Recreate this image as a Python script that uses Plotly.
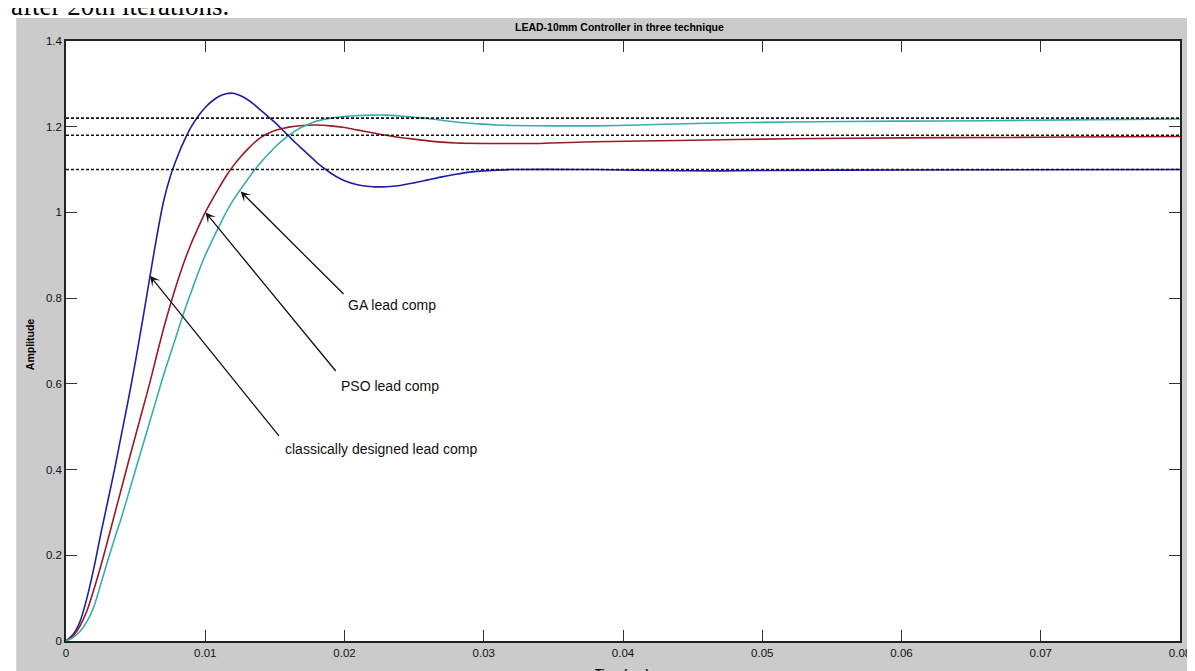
import plotly.graph_objects as go

# ---- data ----
t_classical = [0, 0.0005, 0.001, 0.0015, 0.002, 0.0025, 0.003, 0.0035, 0.004, 0.0045,
               0.005, 0.0055, 0.006, 0.0065, 0.007, 0.0075, 0.008, 0.0085, 0.009, 0.0095,
               0.010, 0.0105, 0.011, 0.0115, 0.012, 0.0125, 0.013, 0.0135, 0.014, 0.0145,
               0.015, 0.0155, 0.016, 0.0165, 0.017, 0.0175, 0.018, 0.0185, 0.019, 0.0195,
               0.020, 0.021, 0.022, 0.023, 0.024, 0.025, 0.026, 0.027, 0.028, 0.029,
               0.030, 0.032, 0.038, 0.042, 0.047, 0.050, 0.060, 0.08]
v_classical = [0, 0.015, 0.045, 0.10, 0.17, 0.25, 0.326, 0.403, 0.485, 0.567,
               0.655, 0.748, 0.845, 0.94, 1.025, 1.085, 1.13, 1.168, 1.20, 1.225,
               1.245, 1.26, 1.271, 1.277, 1.278, 1.273, 1.264, 1.252, 1.238, 1.224,
               1.21, 1.194, 1.178, 1.162, 1.147, 1.132, 1.117, 1.104, 1.092, 1.082,
               1.074, 1.064, 1.06, 1.06, 1.063, 1.069, 1.076, 1.083, 1.089, 1.094,
               1.097, 1.10, 1.10, 1.098, 1.097, 1.098, 1.099, 1.10]

t_pso = [0, 0.0005, 0.001, 0.0015, 0.002, 0.0025, 0.003, 0.0035, 0.004, 0.0045,
         0.005, 0.0055, 0.006, 0.0065, 0.007, 0.0075, 0.008, 0.0085, 0.009, 0.0095,
         0.010, 0.0105, 0.011, 0.0115, 0.012, 0.0125, 0.013, 0.0135, 0.014, 0.0145,
         0.015, 0.016, 0.017, 0.018, 0.019, 0.020, 0.021, 0.022, 0.023, 0.024,
         0.025, 0.026, 0.027, 0.028, 0.030, 0.034, 0.038, 0.044, 0.052, 0.060,
         0.068, 0.072, 0.08]
v_pso = [0, 0.012, 0.035, 0.07, 0.12, 0.175, 0.235, 0.297, 0.358, 0.42,
         0.48, 0.54, 0.60, 0.665, 0.728, 0.785, 0.838, 0.886, 0.928, 0.965,
         1.0, 1.03, 1.058, 1.085, 1.108, 1.128, 1.146, 1.162, 1.175, 1.184,
         1.191, 1.199, 1.203, 1.204, 1.202, 1.198, 1.192, 1.186, 1.18, 1.175,
         1.171, 1.167, 1.164, 1.162, 1.161, 1.161, 1.165, 1.168, 1.172, 1.174,
         1.175, 1.176, 1.177]

t_ga = [0, 0.0005, 0.001, 0.0015, 0.002, 0.0025, 0.003, 0.0035, 0.004, 0.0045,
        0.005, 0.0055, 0.006, 0.0065, 0.007, 0.0075, 0.008, 0.0085, 0.009, 0.0095,
        0.010, 0.0105, 0.011, 0.0115, 0.012, 0.0125, 0.013, 0.0135, 0.014, 0.0145,
        0.015, 0.0155, 0.016, 0.0165, 0.017, 0.0175, 0.018, 0.019, 0.020, 0.021,
        0.022, 0.023, 0.024, 0.025, 0.026, 0.027, 0.028, 0.029, 0.030, 0.031,
        0.032, 0.035, 0.038, 0.041, 0.046, 0.052, 0.060, 0.066, 0.072, 0.08]
v_ga = [0, 0.008, 0.022, 0.045, 0.08, 0.133, 0.188, 0.24, 0.29, 0.345,
        0.40, 0.455, 0.51, 0.565, 0.62, 0.67, 0.72, 0.77, 0.815, 0.86,
        0.90, 0.935, 0.968, 1.0, 1.028, 1.052, 1.075, 1.097, 1.117, 1.135,
        1.152, 1.167, 1.18, 1.191, 1.20, 1.207, 1.213, 1.22, 1.224, 1.226,
        1.227, 1.227, 1.225, 1.222, 1.219, 1.215, 1.211, 1.208, 1.206, 1.204,
        1.203, 1.202, 1.202, 1.204, 1.208, 1.211, 1.213, 1.214, 1.216, 1.218]

ref_levels = [1.22, 1.18, 1.10]

x_ticks = [0, 0.01, 0.02, 0.03, 0.04, 0.05, 0.06, 0.07, 0.08]
y_ticks = [0, 0.2, 0.4, 0.6, 0.8, 1.0, 1.2, 1.4]

title_text = "LEAD-10mm Controller in three technique"
x_label = "Time (sec)"
y_label = "Amplitude"
caption_text = "after 20th iterations."

# annotations: (label, head_t, head_v, tail_t, tail_v, text_t, text_v)
labels = [
    ("GA lead comp", 0.01254, 1.049, 0.02004, 0.806, 0.02011, 0.783),
    ("PSO lead comp", 0.01002, 1.000, 0.01946, 0.6265, 0.01961, 0.596),
    ("classically designed lead comp", 0.00603, 0.852, 0.01538, 0.475, 0.0156, 0.447),
]

# ---- figure ----
W, H = 1195, 671
L, R, T, B = 58, 19, 33, 38
pw, ph = W - L - R, H - T - B

def px2paper_x(px):
    return (px - L) / pw

def py2paper_y(py):
    return (H - B - py) / ph

fig = go.Figure()

line_w = 1.6
series = [
    (t_classical, v_classical, "#1f1fa3"),
    (t_pso, v_pso, "#9a1b25"),
    (t_ga, v_ga, "#38adae"),
]
for xs, ys, col in series:
    fig.add_trace(go.Scatter(x=xs, y=ys, mode="lines",
                             line=dict(color=col, width=line_w, shape="spline", smoothing=0.8),
                             hoverinfo="skip"))

for lv in ref_levels:
    fig.add_trace(go.Scatter(x=[x_ticks[0], x_ticks[-1]], y=[lv, lv], mode="lines",
                             line=dict(color="#111111", width=1.6, dash="3px,2px"),
                             hoverinfo="skip"))

font_main = "Liberation Sans, Arial, sans-serif"

annotations = []
for (txt, hx, hy, tx, ty, lx, ly) in labels:
    annotations.append(dict(x=hx, y=hy, xref="x", yref="y", ax=tx, ay=ty,
                            axref="x", ayref="y", text="", showarrow=True,
                            arrowhead=3, arrowsize=1.3, arrowwidth=1.3, arrowcolor="#111111"))
    annotations.append(dict(x=lx, y=ly, xref="x", yref="y", text=txt, showarrow=False,
                            xanchor="left", yanchor="middle",
                            font=dict(family=font_main, size=14, color="#111111")))

annotations.append(dict(x=px2paper_x(613), y=py2paper_y(19), xref="paper", yref="paper",
                        text=title_text, showarrow=False, xanchor="center", yanchor="middle",
                        font=dict(family=font_main, size=10.5, color="#000000", weight="bold")))
annotations.append(dict(x=px2paper_x(616), y=py2paper_y(665), xref="paper", yref="paper",
                        text=x_label, showarrow=False, xanchor="center", yanchor="middle",
                        font=dict(family=font_main, size=11, color="#000000", weight="bold")))
annotations.append(dict(x=px2paper_x(22), y=py2paper_y(337), xref="paper", yref="paper",
                        text=y_label, showarrow=False, xanchor="center", yanchor="middle",
                        textangle=-90,
                        font=dict(family=font_main, size=10.5, color="#000000", weight="bold")))
annotations.append(dict(x=px2paper_x(1), y=py2paper_y(15), xref="paper", yref="paper",
                        text=caption_text, showarrow=False, xanchor="left", yanchor="bottom",
                        font=dict(family="Liberation Serif, Times New Roman, serif", size=27,
                                  color="#000000")))

shapes = [
    # white strip at the top of the page
    dict(type="rect", xref="paper", yref="paper", layer="above",
         x0=px2paper_x(-5), x1=px2paper_x(W + 5), y0=py2paper_y(10), y1=py2paper_y(-5),
         fillcolor="white", line=dict(width=0)),
    # white strip at the left of the page
    dict(type="rect", xref="paper", yref="paper", layer="above",
         x0=px2paper_x(-5), x1=px2paper_x(8), y0=py2paper_y(H + 5), y1=py2paper_y(-5),
         fillcolor="white", line=dict(width=0)),
]

axis_common = dict(showgrid=False, zeroline=False, showline=True, linecolor="#222222",
                   linewidth=1.5, mirror="ticks", ticks="inside", ticklen=11, tickwidth=1,
                   tickcolor="#333333",
                   tickfont=dict(family=font_main, size=11.5, color="#111111"))

fig.update_layout(
    width=W, height=H,
    margin=dict(l=L, r=R, t=T, b=B),
    paper_bgcolor="#cbcbcb",
    plot_bgcolor="white",
    showlegend=False,
    xaxis=dict(range=[x_ticks[0], x_ticks[-1]], tickvals=x_ticks,
               ticktext=[("%g" % v) for v in x_ticks], **axis_common),
    yaxis=dict(range=[y_ticks[0], y_ticks[-1]], tickvals=y_ticks,
               ticktext=[("%g" % v) for v in y_ticks], **axis_common),
    annotations=annotations,
    shapes=shapes,
)

fig.write_html("out.html")
